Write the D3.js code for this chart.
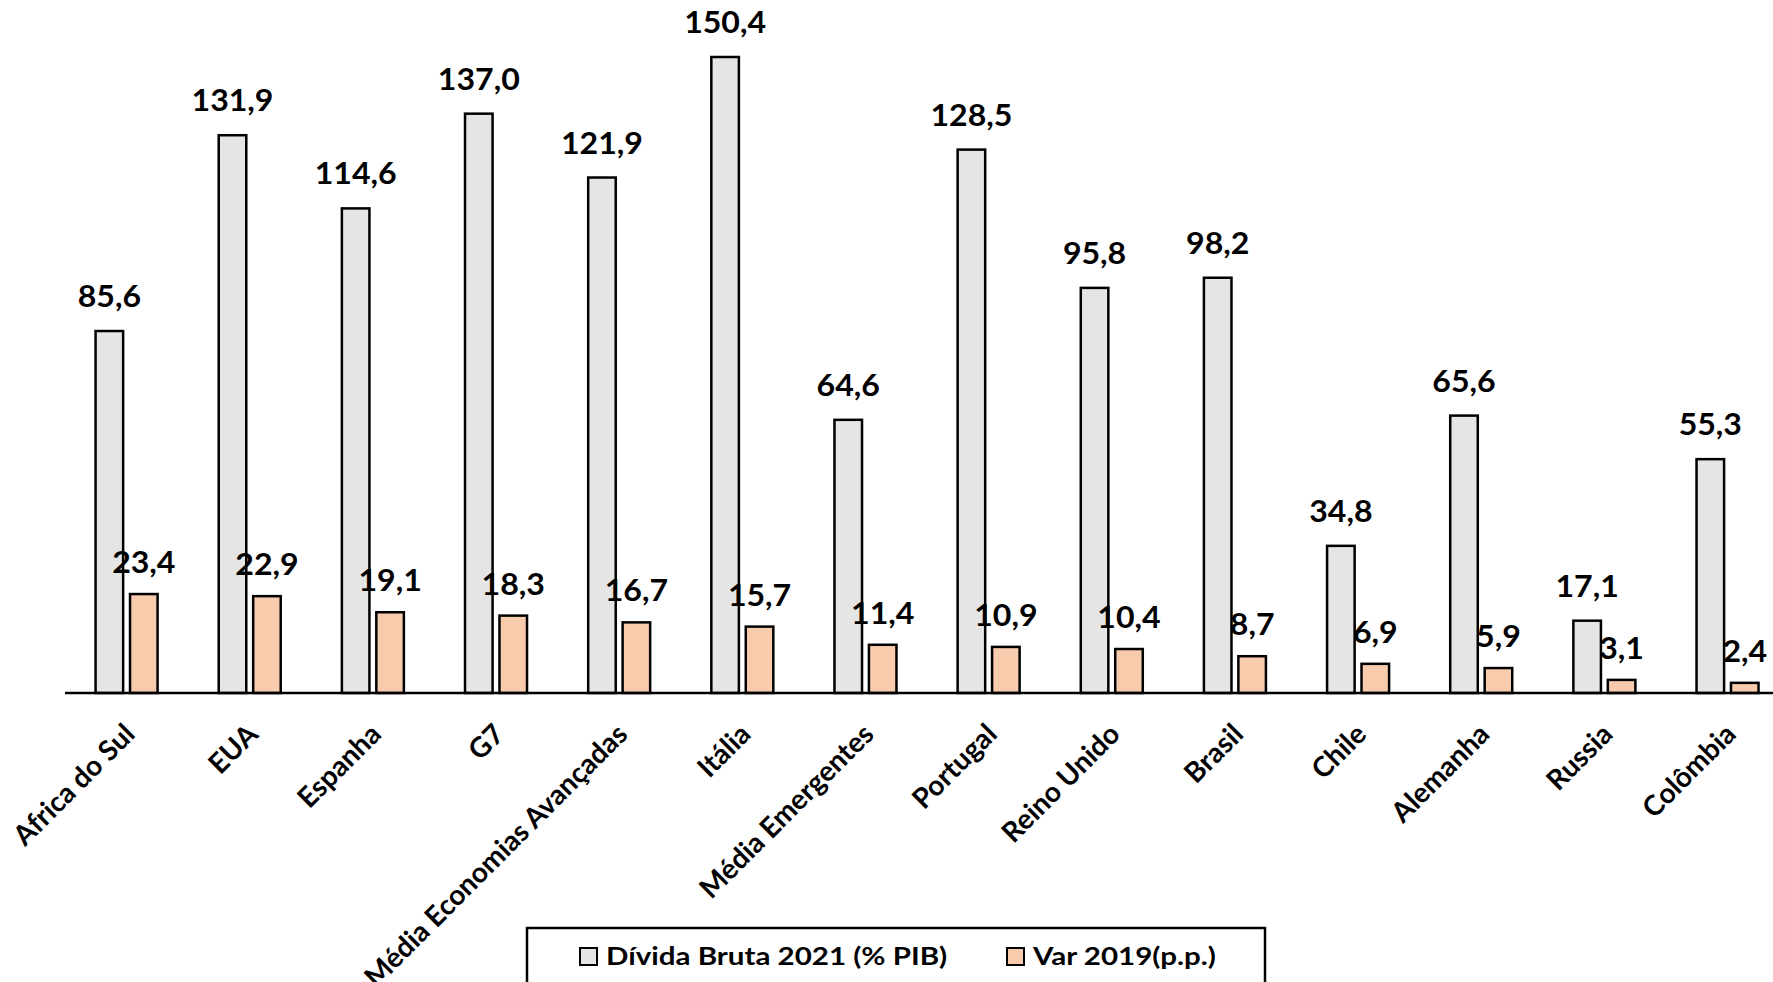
<!DOCTYPE html>
<html>
<head>
<meta charset="utf-8">
<script src="https://cdn.jsdelivr.net/npm/d3@7/dist/d3.min.js"></script>
<style>
  html, body { margin: 0; padding: 0; background: #fff; }
  svg { display: block; font-family: Lato, "Open Sans", sans-serif; font-weight: 700; }
</style>
</head>
<body>
<svg id="chart" width="1773" height="982"></svg>
<script>
// Gross public debt 2021 (% of GDP) and change since 2019 (p.p.)
const categories = [
  "Africa do Sul", "EUA", "Espanha", "G7", "Média Economias Avançadas", "Itália",
  "Média Emergentes", "Portugal", "Reino Unido", "Brasil", "Chile", "Alemanha",
  "Russia", "Colômbia"
];
const dividaBruta2021 = [85.6, 131.9, 114.6, 137.0, 121.9, 150.4, 64.6, 128.5, 95.8, 98.2, 34.8, 65.6, 17.1, 55.3];
const var2019 = [23.4, 22.9, 19.1, 18.3, 16.7, 15.7, 11.4, 10.9, 10.4, 8.7, 6.9, 5.9, 3.1, 2.4];
const seriesNames = ["Dívida Bruta 2021 (% PIB)", "Var 2019(p.p.)"];
const seriesColors = ["#e5e5e5", "#f8cbad"];

const series = [
  { key: "divida", name: seriesNames[0], color: seriesColors[0], values: dividaBruta2021 },
  { key: "var", name: seriesNames[1], color: seriesColors[1], values: var2019 }
];

const svg = d3.select("#chart");
const W = 1773;

// plot area
const x0 = 65, y0 = 693, bandStep = 123.15;
const x = d3.scaleBand()
  .domain(categories)
  .range([x0, x0 + bandStep * categories.length])
  .paddingInner(0).paddingOuter(0);

const groupHalf = 31;
const xs = d3.scaleBand()
  .domain(series.map(s => s.key))
  .range([x.bandwidth() / 2 - groupHalf, x.bandwidth() / 2 + groupHalf])
  .paddingInner(0.2);

const y = d3.scaleLinear().domain([0, 160]).range([y0, y0 - 160 * 4.2287]);

const locale = d3.formatLocale({ decimal: ",", thousands: ".", grouping: [3], currency: ["", ""] });
const fmt = locale.format(".1f");

// bars
const groups = svg.append("g").selectAll("g")
  .data(categories)
  .join("g")
  .attr("transform", d => `translate(${x(d)},0)`);

groups.selectAll("rect")
  .data((d, i) => series.map(s => ({ key: s.key, color: s.color, v: s.values[i] })))
  .join("rect")
  .attr("x", d => xs(d.key))
  .attr("width", xs.bandwidth())
  .attr("y", d => y(d.v))
  .attr("height", d => y(0) - y(d.v))
  .attr("fill", d => d.color)
  .attr("stroke", "#000")
  .attr("stroke-width", 2.5);

// value labels
groups.selectAll("text.val")
  .data((d, i) => series.map(s => ({ key: s.key, v: s.values[i] })))
  .join("text")
  .attr("class", "val")
  .attr("transform", d => `translate(${xs(d.key) + xs.bandwidth() / 2},${y(d.v) - (d.key === "divida" ? 24 : 21)}) scale(1.07,1)`)
  .attr("text-anchor", "middle")
  .attr("font-size", 30)
  .attr("fill", "#000")
  .text(d => fmt(d.v));

// category axis
const axis = svg.append("g")
  .attr("transform", `translate(0,${y0})`)
  .call(d3.axisBottom(x).tickSize(0).tickSizeOuter(0));

axis.select(".domain")
  .attr("d", `M${x0},0H${W + 20}`)
  .attr("stroke", "#000")
  .attr("stroke-width", 2.5);

axis.selectAll(".tick text")
  .attr("x", 0).attr("y", 0)
  .attr("dy", "0.35em")
  .attr("transform", "translate(3,36) rotate(-45)")
  .style("text-anchor", "end")
  .attr("font-size", 28)
  .attr("font-family", "Lato, 'Open Sans', sans-serif")
  .attr("font-weight", 700)
  .attr("fill", "#000");

// legend
const legend = svg.append("g");
legend.append("rect")
  .attr("x", 527).attr("y", 928)
  .attr("width", 738).attr("height", 90)
  .attr("fill", "#fff")
  .attr("stroke", "#000")
  .attr("stroke-width", 2.5);

const legendX = [580, 1007];
const items = legend.selectAll("g.item")
  .data(series)
  .join("g")
  .attr("class", "item")
  .attr("transform", (d, i) => `translate(${legendX[i]},948)`);

items.append("rect")
  .attr("width", 17).attr("height", 17)
  .attr("fill", d => d.color)
  .attr("stroke", "#000")
  .attr("stroke-width", 2);

items.append("text")
  .attr("transform", "translate(26,17) scale(1.23,1)")
  .attr("font-size", 24)
  .attr("fill", "#000")
  .text(d => d.name);
</script>
</body>
</html>
